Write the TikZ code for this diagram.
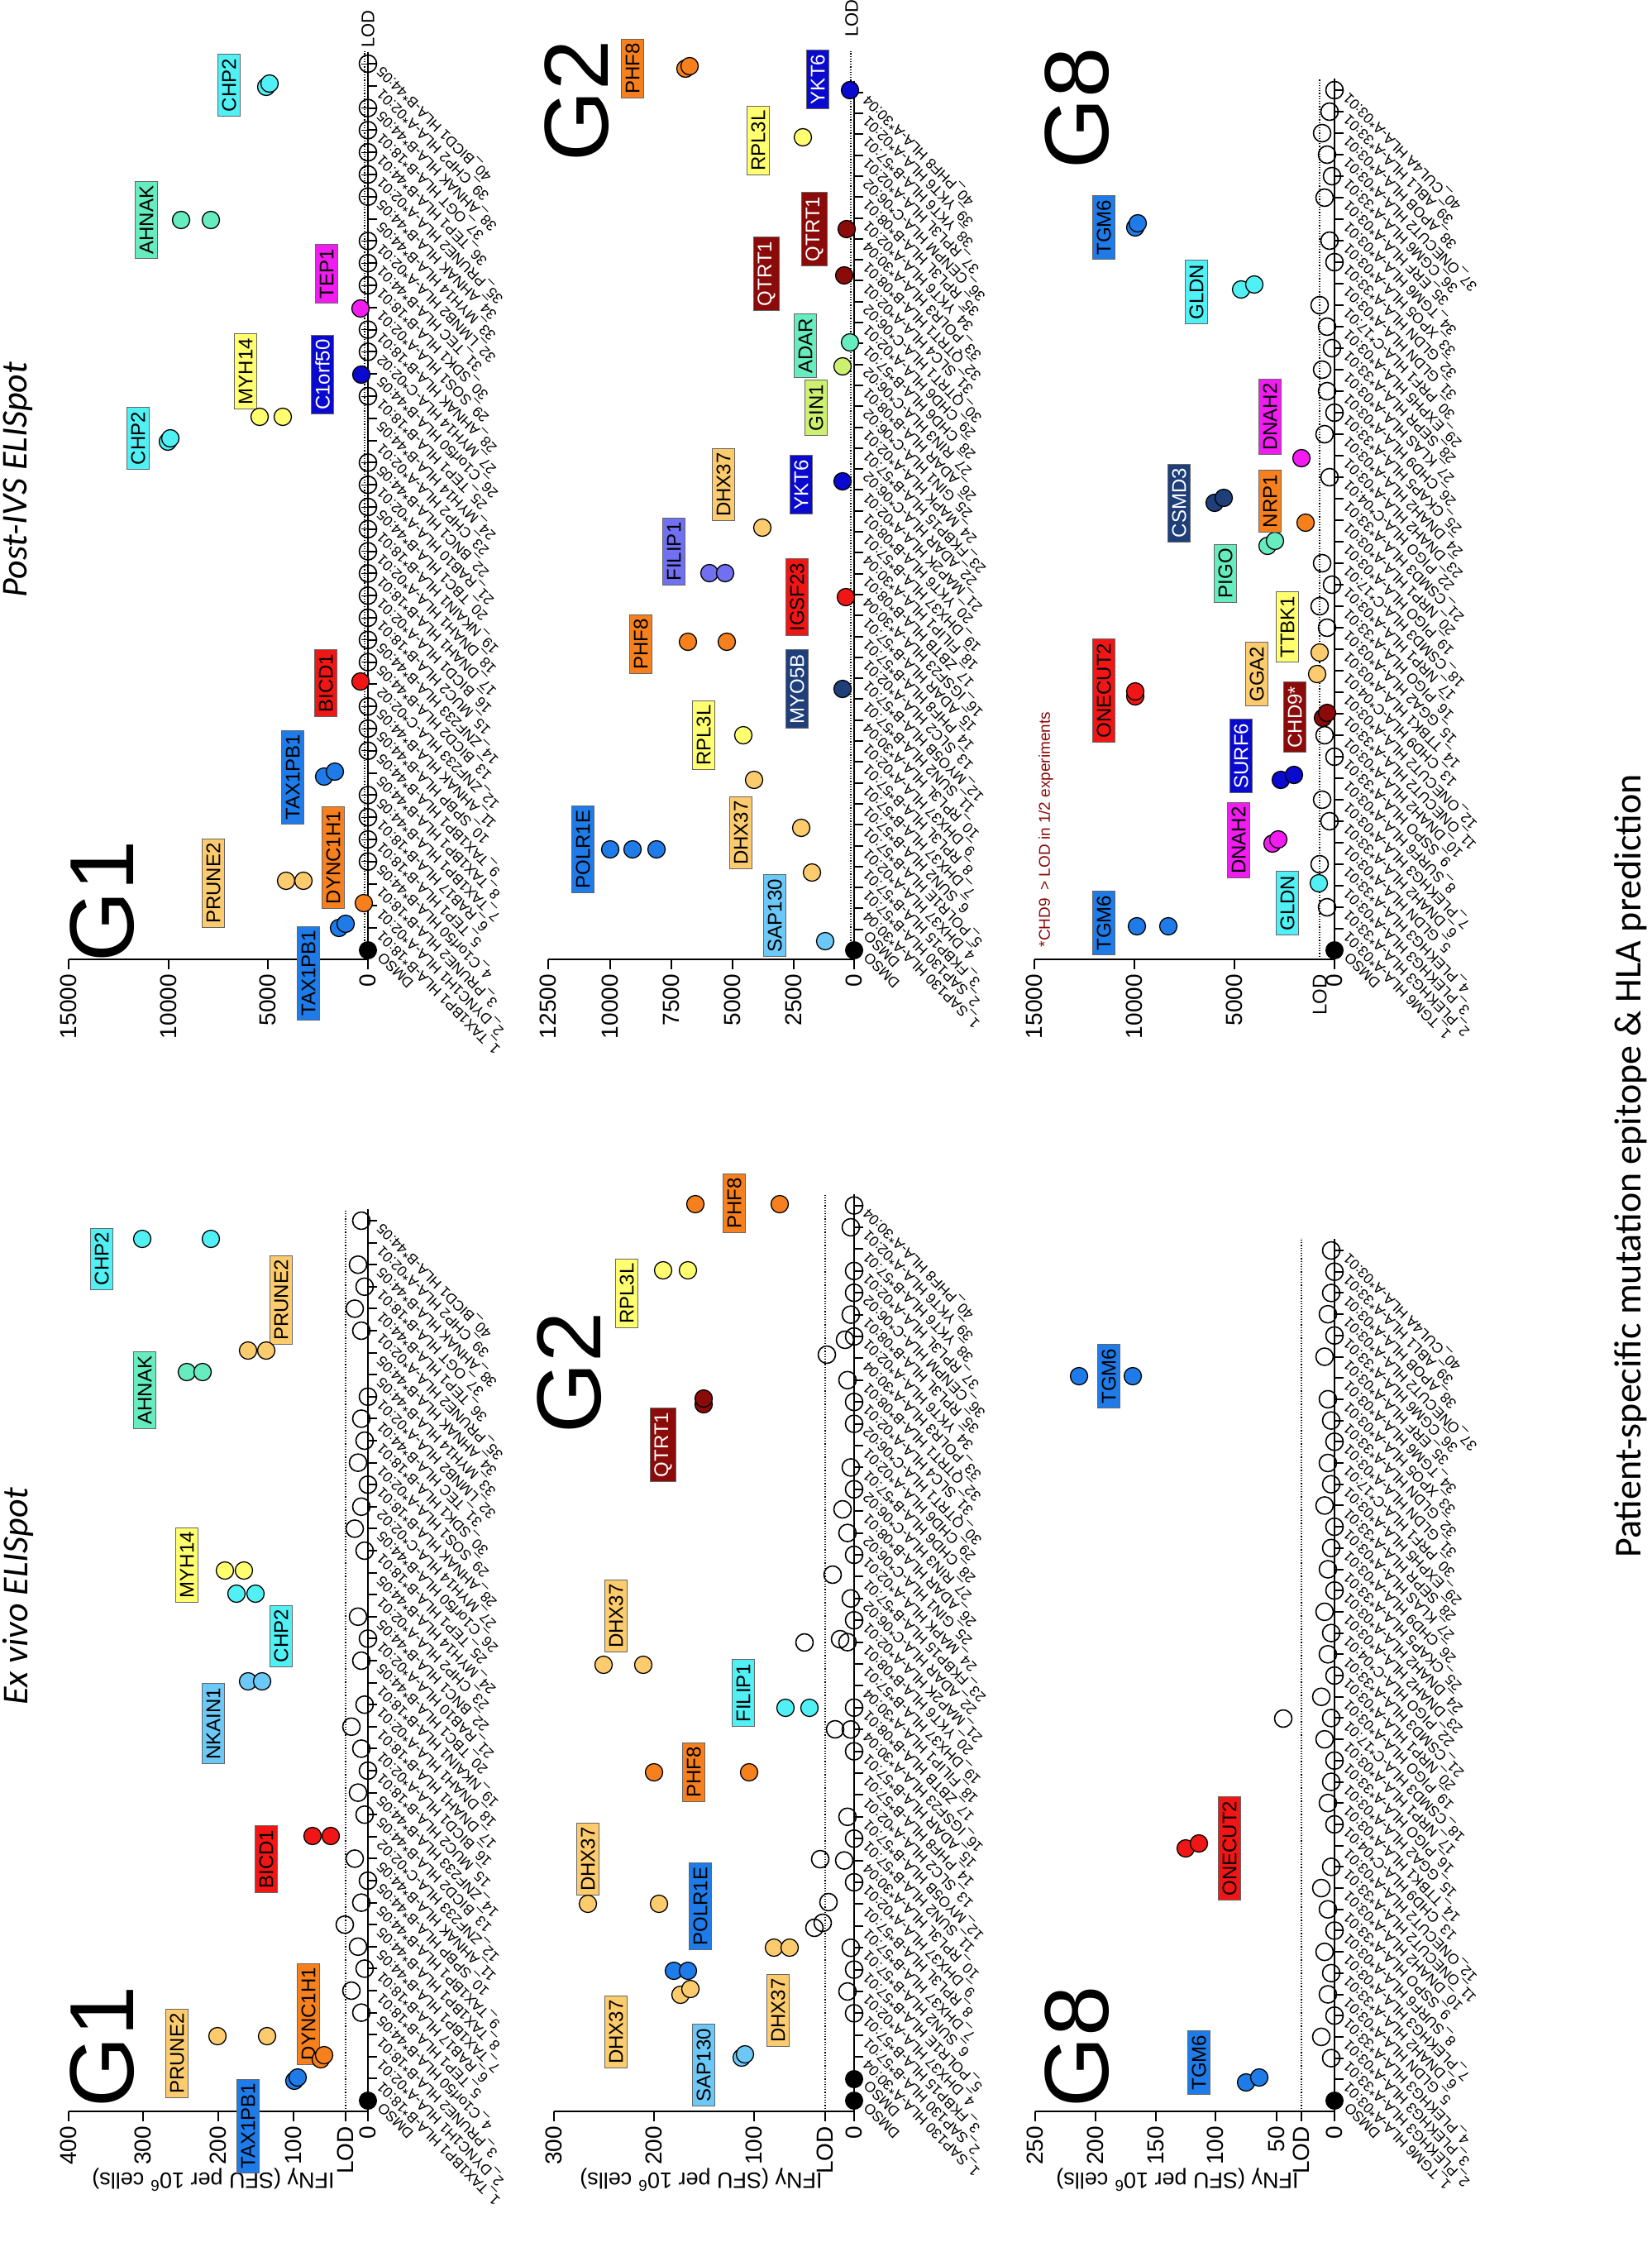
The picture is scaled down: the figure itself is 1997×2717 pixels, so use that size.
\documentclass[tikz,border=0pt]{standalone}
\usepackage{fontspec}
\setmainfont{Liberation Sans}
\newfontfamily\carlitofont{Carlito}
\definecolor{cBlue}{RGB}{30,123,232}
\definecolor{cOrange}{RGB}{247,128,30}
\definecolor{cLOrange}{RGB}{252,203,110}
\definecolor{cRed}{RGB}{240,22,22}
\definecolor{cDBlue}{RGB}{10,10,207}
\definecolor{cMag}{RGB}{240,28,240}
\definecolor{cYel}{RGB}{255,255,112}
\definecolor{cCyan}{RGB}{80,240,245}
\definecolor{cAqua}{RGB}{102,236,190}
\definecolor{cNavy}{RGB}{31,63,122}
\definecolor{cDRed}{RGB}{139,10,10}
\definecolor{cLBlue}{RGB}{108,200,247}
\definecolor{cSlate}{RGB}{112,112,240}
\definecolor{cLime}{RGB}{204,240,112}
\tikzset{
 gbox/.style={draw=black!60,line width=1pt,rotate=90,font=\fontsize{24}{24}\selectfont,inner sep=5pt,fill=#1},
 wbox/.style={gbox=#1,text=white},
 dot/.style={fill=#1,draw=black,line width=1.3pt},
 ocirc/.style={draw=black,line width=1.6pt,fill=none},
 catlab/.style={rotate=135,anchor=east,font=\fontsize{17.5}{17.5}\selectfont,inner sep=1pt},
 vlab/.style={rotate=90,anchor=east,font=\fontsize{28}{28}\selectfont,inner sep=2pt},
 glab/.style={rotate=90,font=\fontsize{110}{110}\selectfont},
 axis/.style={line width=2pt},
 lod/.style={dotted,line width=1.2pt},
 ytitle/.style={rotate=180,font=\fontsize{27}{27}\selectfont}
}
\newcommand\dt[3]{\draw[dot=#1] (#2,#3) circle (10.5);}
\newcommand\vt[3]{\draw[axis] (#1,#2) -- ++(0,12); \node[vlab] at (#1,#2+16) {#3};}
\def\GoneList{DMSO,1\_TAX1BP1 HLA-B*18:01,2\_DYNC1H1 HLA-A*02:01,3\_PRUNE2 HLA-B*18:01,4\_C1orf50 HLA-B*44:05,5\_TEP1 HLA-B*18:01,6\_RAB17 HLA-B*18:01,7\_TAX1BP1 HLA-B*44:05,8\_TAX1BP1 HLA-B*44:05,9\_TAX1BP1 HLA-B*44:05,10\_SPBP HLA-B*44:05,11\_AHNAK HLA-B*44:05,12\_ZNF233 HLA-C*02:02,13\_BICD2 HLA-B*44:05,14\_ZNF233 HLA-B*44:05,15\_MUC2 HLA-B*18:01,16\_BICD1 HLA-A*02:01,17\_DNAH1 HLA-B*18:01,18\_DNAH1 HLA-A*02:01,19\_NKAIN1 HLA-B*18:01,20\_TBC1 HLA-B*44:05,21\_RAB10 HLA-A*02:01,22\_BNC1 HLA-B*44:05,23\_CHP2 HLA-A*02:01,24\_MYH14 HLA-B*44:05,25\_TEP1 HLA-B*18:01,26\_C1orf50 HLA-B*44:05,27\_MYH14 HLA-C*02:02,28\_AHNAK HLA-B*18:01,29\_SOS1 HLA-A*02:01,30\_SDK1 HLA-B*18:01,31\_TEC HLA-B*44:01,32\_LMNB2 HLA-A*02:01,33\_MYH14 HLA-B*44:05,34\_AHNAK HLA-B*44:05,35\_PRUNE2 HLA-A*02:01,36\_TEP1 HLA-B*44:01,37\_OGT HLA-B*18:01,38\_AHNAK HLA-B*44:05,39\_CHP2 HLA-A*02:01,40\_BICD1 HLA-B*44:05}
\def\GtwoList{DMSO,DMSO,1\_SAP130 HLA-A*30:04,2\_SAP130 HLA-B*57:01,3\_FKBP15 HLA-B*57:01,4\_DHX37 HLA-A*02:01,5\_POLR1E HLA-B*57:01,6\_SUN2 HLA-B*57:01,7\_DHX37 HLA-B*57:01,8\_RPL3L HLA-B*57:01,9\_DHX37 HLA-A*02:01,10\_RPL3L HLA-A*30:04,11\_SUN2 HLA-B*57:01,12\_MYO5B HLA-B*57:01,13\_SLC2 HLA-A*02:01,14\_PHF8 HLA-B*57:01,15\_ADAR HLA-B*57:01,16\_IGSF23 HLA-A*30:04,17\_ZBTB HLA-B*08:01,18\_FILIP1 HLA-A*30:04,19\_DHX37 HLA-B*57:01,20\_YKT6 HLA-B*08:01,21\_MAP2K HLA-A*02:01,22\_ADAR HLA-C*06:02,23\_FKBP15 HLA-B*57:01,24\_MAPK HLA-A*02:01,25\_GIN1 HLA-C*06:02,26\_ADAR HLA-B*08:01,27\_RIN3 HLA-C*06:02,28\_CHD6 HLA-B*57:01,29\_CHD6 HLA-A*02:01,30\_QTRT1 HLA-C*06:02,31\_SLC4 HLA-A*02:01,32\_QTRT1 HLA-B*08:01,33\_POLR3 HLA-A*30:04,34\_YKT6 HLA-A*02:01,35\_RPL3L HLA-B*08:01,36\_CENPM HLA-C*06:02,37\_RPL3L HLA-A*02:01,38\_YKT6 HLA-B*57:01,39\_YKT6 HLA-A*02:01,40\_PHF8 HLA-A*30:04}
\def\GeightList{DMSO,1\_TGM6 HLA-A*03:01,2\_PLEKHG3 HLA-A*33:01,3\_PLEKHG3 HLA-A*03:01,4\_PLEKHG3 HLA-A*33:01,5\_GLDN HLA-A*03:01,6\_DNAH2 HLA-A*33:01,7\_PLEKHG3 HLA-A*03:01,8\_SURF6 HLA-A*03:01,9\_SSPO HLA-A*33:01,10\_DNAH2 HLA-A*03:01,11\_ONECUT2 HLA-A*33:01,12\_ONECUT2 HLA-A*03:01,13\_CHD9 HLA-C*04:01,14\_TTBK1 HLA-A*03:01,15\_GGA2 HLA-A*03:01,16\_PIGO HLA-A*33:01,17\_NRP1 HLA-A*03:01,18\_CSMD3 HLA-C*17:01,19\_PIGO HLA-A*03:01,20\_NRP1 HLA-A*03:01,21\_CSMD3 HLA-A*33:01,22\_PIGO HLA-C*04:01,23\_DNAH2 HLA-A*03:01,24\_DNAH2 HLA-A*03:01,25\_CKAP5 HLA-A*33:01,26\_CHD9 HLA-A*03:01,27\_KLAS HLA-A*03:01,28\_SEPR HLA-A*33:01,29\_EXPH5 HLA-A*03:01,30\_PRF1 HLA-C*17:01,31\_GLDN HLA-A*03:01,32\_GLDN HLA-A*33:01,33\_XPO5 HLA-A*03:01,34\_TGM6 HLA-A*03:01,35\_ERF HLA-A*03:01,36\_CGM6 HLA-A*33:01,37\_ONECUT2 HLA-A*03:01,38\_APOB HLA-A*03:01,39\_ABL1 HLA-A*33:01,40\_CUL4A HLA-A*03:01}
\newcommand\catlabels[4]{\foreach \t [count=\i from 0] in #4 {\node[catlab] at ({#1+14},{#2-\i*#3+5}) {\t};}}
\newcommand\cataxis[5]{\draw[axis] (#1,#5) -- (#1,{#2-#4*#3-14});
 \foreach \i in {0,...,#4} {\draw[axis] (#1,{#2-\i*#3}) -- ++(11,0);}}
\begin{document}
\begin{tikzpicture}[x=1pt,y=-1pt]
\useasboundingbox (0,0) rectangle (1997,2717);
\fill[white] (0,0) rectangle (1997,2717);
\node[rotate=90,font=\carlitofont\itshape\fontsize{44}{44}\selectfont] (t1) at (22,580) {Post-IVS ELISpot};
\node[rotate=90,font=\carlitofont\itshape\fontsize{44}{44}\selectfont] (t2) at (22,1930) {Ex vivo ELISpot};
\node[rotate=90,font=\carlitofont\fontsize{46}{46}\selectfont] (t3) at (1972,1410) {Patient-specific mutation epitope \& HLA prediction};

%%%%%%%%%%%%%% POST-IVS G1
\node[glab] at (124,1090) {G1};
\draw[lod] (441,1160) -- (441,62);
\cataxis{445}{1149}{26.8}{40}{1160}
\draw[axis] (83,1160) -- (445,1160);
\vt{83}{1160}{15000}\vt{204}{1160}{10000}\vt{324}{1160}{5000}\vt{445}{1160}{0}
\node[rotate=90,font=\fontsize{22}{22}\selectfont] at (445,35) {LOD};
\catlabels{445}{1149}{26.8}{\GoneList}
\foreach \i in {4,5,6,7,9,10,11,13,14,15,16,17,18,19,20,21,22,25,27,28,30,31,32,34,35,36,37,38,40}{
 \draw[ocirc] (445,{1149-\i*26.8}) circle (10.5);
 \draw[line width=1pt] (437,{1149-\i*26.8}) -- (453,{1149-\i*26.8}) (445,{1141-\i*26.8}) -- (445,{1157-\i*26.8});}
\fill[black] (445,1149) circle (11);
\node[gbox=cBlue] at (373,1177) {TAX1PB1};\dt{cBlue}{410}{1122}\dt{cBlue}{418}{1117}
\node[gbox=cOrange] at (403,1037) {DYNC1H1};\dt{cOrange}{440}{1092}
\node[gbox=cLOrange] at (258,1068) {PRUNE2};\dt{cLOrange}{346}{1065}\dt{cLOrange}{367}{1065}
\node[gbox=cBlue] at (354,940) {TAX1PB1};\dt{cBlue}{392}{939}\dt{cBlue}{405}{933}
\node[gbox=cRed] at (394,826) {BICD1};\dt{cRed}{436}{824}
\node[wbox=cDBlue] at (390,453) {C1orf50};\dt{cDBlue}{437}{453}
\node[gbox=cMag] at (395,331) {TEP1};\dt{cMag}{436}{373}
\node[gbox=cYel] at (297,449) {MYH14};\dt{cYel}{314}{504}\dt{cYel}{342}{504}
\node[gbox=cCyan] at (167,530) {CHP2};\dt{cCyan}{203}{534}\dt{cCyan}{206}{530}
\node[gbox=cAqua] at (177,266) {AHNAK};\dt{cAqua}{219}{266}\dt{cAqua}{255}{266}
\node[gbox=cCyan] at (277,103) {CHP2};\dt{cCyan}{322}{105}\dt{cCyan}{326}{101}

%%%%%%%%%%%%%% POST-IVS G2
\node[glab] at (698,122) {G2};
\draw[lod] (1029,1160) -- (1029,62);
\cataxis{1033}{1149}{25.3}{41}{1160}
\draw[axis] (663,1160) -- (1033,1160);
\vt{663}{1160}{12500}\vt{738}{1160}{10000}\vt{812}{1160}{7500}\vt{886}{1160}{5000}\vt{960}{1160}{2500}\vt{1033}{1160}{0}
\node[rotate=90,font=\fontsize{22}{22}\selectfont] at (1030,22) {LOD};
\catlabels{1033}{1149}{25.3}{\GtwoList}
\fill[black] (1033,1149) circle (11);
\node[gbox=cBlue] at (705,1027) {POLR1E};\dt{cBlue}{738}{1027}\dt{cBlue}{765}{1027}\dt{cBlue}{794}{1027}
\node[gbox=cLBlue] at (937,1107) {SAP130};\dt{cLBlue}{998}{1138}
\node[gbox=cLOrange] at (896,1007) {DHX37};\dt{cLOrange}{969}{1001}\dt{cLOrange}{982}{1055}\dt{cLOrange}{912}{943}
\node[gbox=cYel] at (851,889) {RPL3L};\dt{cYel}{899}{889}
\node[gbox=cOrange] at (775,779) {PHF8};\dt{cOrange}{832}{776}\dt{cOrange}{879}{776}
\node[gbox=cSlate] at (815,667) {FILIP1};\dt{cSlate}{858}{693}\dt{cSlate}{877}{693}
\node[gbox=cLOrange] at (875,586) {DHX37};\dt{cLOrange}{922}{638}
\node[wbox=cNavy] at (964,833) {MYO5B};\dt{cNavy}{1019}{833}
\node[gbox=cRed] at (964,722) {IGSF23};\dt{cRed}{1023}{722}
\node[wbox=cDBlue] at (969,586) {YKT6};\dt{cDBlue}{1019}{582}
\node[gbox=cLime] at (987,493) {GIN1};\dt{cLime}{1019}{443}
\node[gbox=cAqua] at (974,418) {ADAR};\dt{cAqua}{1028}{414}
\node[wbox=cDRed] at (927,331) {QTRT1};\dt{cDRed}{1021}{333}
\node[wbox=cDRed] at (985,277) {QTRT1};\dt{cDRed}{1024}{277}
\node[gbox=cYel] at (917,170) {RPL3L};\dt{cYel}{971}{166}
\node[wbox=cDBlue] at (989,96) {YKT6};\dt{cDBlue}{1028}{109}
\node[gbox=cOrange] at (765,83) {PHF8};\dt{cOrange}{829}{83}\dt{cOrange}{834}{80}

%%%%%%%%%%%%%% POST-IVS G8
\node[glab] at (1303,131) {G8};
\draw[lod] (1596,1160) -- (1596,95);
\cataxis{1614}{1149}{26}{40}{1160}
\draw[axis] (1251,1160) -- (1614,1160);
\vt{1251}{1160}{15000}\vt{1372}{1160}{10000}\vt{1493}{1160}{5000}\vt{1614}{1160}{0}
\node[vlab,font=\fontsize{24}{24}\selectfont] at (1596,1176) {LOD};
\catlabels{1614}{1149}{26}{\GeightList}
\foreach \i/\d in {2/3,4/6,6/2,7/5,9/0,10/4,15/3,16/6,17/1,18/5,22/2,24/4,25/0,26/3,27/5,28/1,29/3,30/6,32/0,33/2,35/4,36/1,37/3,38/5,39/2,40/0}{
 \draw[ocirc] ({1614-\d*3},{1149-\i*26}) circle (10.5);}
\fill[black] (1614,1149) circle (11);
\node[gbox=cBlue] at (1335,1116) {TGM6};\dt{cBlue}{1375}{1120}\dt{cBlue}{1413}{1120}
\node[gbox=cCyan] at (1557,1092) {GLDN};\dt{cCyan}{1595}{1068}
\node[gbox=cMag] at (1498,1016) {DNAH2};\dt{cMag}{1539}{1020}\dt{cMag}{1546}{1015}
\node[wbox=cDBlue] at (1501,914) {SURF6};\dt{cDBlue}{1549}{943}\dt{cDBlue}{1565}{937}
\node[wbox=cDRed] at (1566,867) {CHD9*};\dt{cDRed}{1600}{868}\dt{cDRed}{1605}{862}
\node[gbox=cLOrange] at (1520,815) {GGA2};\dt{cLOrange}{1593}{815}\dt{cLOrange}{1596}{789}
\node[gbox=cYel] at (1557,758) {TTBK1};
\node[gbox=cRed] at (1335,835) {ONECUT2};\dt{cRed}{1373}{842}\dt{cRed}{1373}{836}
\node[gbox=cAqua] at (1482,693) {PIGO};\dt{cAqua}{1533}{660}\dt{cAqua}{1542}{654}
\node[gbox=cOrange] at (1536,606) {NRP1};\dt{cOrange}{1579}{632}
\node[wbox=cNavy] at (1426,608) {CSMD3};\dt{cNavy}{1469}{608}\dt{cNavy}{1480}{602}
\node[gbox=cMag] at (1536,504) {DNAH2};\dt{cMag}{1574}{554}
\node[gbox=cCyan] at (1447,353) {GLDN};\dt{cCyan}{1501}{350}\dt{cCyan}{1517}{344}
\node[gbox=cBlue] at (1335,275) {TGM6};\dt{cBlue}{1373}{275}\dt{cBlue}{1376}{270}
\node[rotate=90,text=cDRed,font=\fontsize{19}{19}\selectfont] at (1265,1003) {*CHD9\enspace> LOD in 1/2 experiments};

%%%%%%%%%%%%%% EX VIVO G1
\node[glab] at (124,2475) {G1};
\draw[lod] (418,2553) -- (418,1463);
\cataxis{445}{2540}{26.6}{40}{2553}
\draw[axis] (83,2553) -- (445,2553);
\vt{83}{2553}{400}\vt{173}{2553}{300}\vt{264}{2553}{200}\vt{355}{2553}{100}\vt{418}{2553}{LOD}\vt{445}{2553}{0}
\node[ytitle] at (258,2636) {IFNγ (SFU per 10\textsuperscript{6} cells)};
\catlabels{445}{2540}{26.6}{\GoneList}
\foreach \i/\d in {4/2,5/5,6/1,7/3,8/7,9/2,10/0,11/4,13/1,14/3,15/0,16/2,17/5,18/1,20/2,21/0,22/3,25/1,26/4,27/2,28/0,29/3,30/1,31/2,32/0,35/2,36/4,37/1,38/3,40/2}{
 \draw[ocirc] ({445-\d*4},{2540-\i*26.6}) circle (10.5);}
\fill[black] (445,2540) circle (11);
\node[gbox=cBlue] at (300,2571) {TAX1PB1};\dt{cBlue}{356}{2516}\dt{cBlue}{360}{2512}
\node[gbox=cLOrange] at (214,2483) {PRUNE2};\dt{cLOrange}{263}{2462}\dt{cLOrange}{323}{2462}
\node[gbox=cOrange] at (373,2435) {DYNC1H1};\dt{cOrange}{388}{2490}\dt{cOrange}{392}{2485}
\node[gbox=cRed] at (322,2248) {BICD1};\dt{cRed}{378}{2220}\dt{cRed}{400}{2220}
\node[gbox=cLBlue] at (258,2084) {NKAIN1};\dt{cLBlue}{300}{2033}\dt{cLBlue}{317}{2033}
\node[gbox=cCyan] at (340,1978) {CHP2};\dt{cCyan}{286}{1927}\dt{cCyan}{309}{1927}
\node[gbox=cYel] at (226,1892) {MYH14};\dt{cYel}{272}{1899}\dt{cYel}{295}{1899}
\node[gbox=cAqua] at (175,1681) {AHNAK};\dt{cAqua}{226}{1659}\dt{cAqua}{245}{1659}
\node[gbox=cLOrange] at (340,1572) {PRUNE2};\dt{cLOrange}{300}{1633}\dt{cLOrange}{322}{1633}
\node[gbox=cCyan] at (123,1522) {CHP2};\dt{cCyan}{172}{1498}\dt{cCyan}{255}{1498}

%%%%%%%%%%%%%% EX VIVO G2
\node[glab] at (689,1660) {G2};
\draw[lod] (998,2553) -- (998,1445);
\cataxis{1033}{2540}{26.4}{41}{2553}
\draw[axis] (670,2553) -- (1033,2553);
\vt{670}{2553}{300}\vt{791}{2553}{200}\vt{912}{2553}{100}\vt{998}{2553}{LOD}\vt{1033}{2553}{0}
\node[ytitle] at (848,2636) {IFNγ (SFU per 10\textsuperscript{6} cells)};
\catlabels{1033}{2540}{26.4}{\GtwoList}
\foreach \i/\d in {4/0,5/2,6/0,7/1,10/0,11/3,12/0,13/2,16/0,17/1,18/0,21/2,22/0,23/1,25/0,26/2,28/0,29/1,31/0,32/0,33/2,35/0,36/1,37/0,38/0,40/1,41/0}{
 \draw[ocirc] ({1033-\d*4},{2540-\i*26.4}) circle (10.5);}
\foreach \x/\y in {985/2331,995/2325,992/2248,973/1986,1010/2091,1016/1982,1007/1904,1019/1825,1022/1620,1000/1638,1002/2300}{\draw[ocirc] (\x,\y) circle (10.5);}
\fill[black] (1033,2540) circle (11);\fill[black] (1033,2514) circle (11);
\node[gbox=cLBlue] at (851,2497) {SAP130};\dt{cLBlue}{897}{2488}\dt{cLBlue}{901}{2484}
\node[gbox=cLOrange] at (745,2457) {DHX37};\dt{cLOrange}{823}{2412}\dt{cLOrange}{835}{2405}
\dt{cBlue}{815}{2383}\dt{cBlue}{832}{2383}
\node[gbox=cBlue] at (847,2305) {POLR1E};
\node[gbox=cLOrange] at (711,2248) {DHX37};\dt{cLOrange}{711}{2302}\dt{cLOrange}{797}{2302}
\node[gbox=cLOrange] at (941,2431) {DHX37};\dt{cLOrange}{936}{2355}\dt{cLOrange}{955}{2355}
\node[gbox=cOrange] at (839,2143) {PHF8};\dt{cOrange}{791}{2143}\dt{cOrange}{906}{2143}
\node[gbox=cCyan] at (899,2047) {FILIP1};\dt{cCyan}{950}{2065}\dt{cCyan}{979}{2065}
\node[gbox=cLOrange] at (745,1954) {DHX37};\dt{cLOrange}{730}{2013}\dt{cLOrange}{778}{2013}
\node[wbox=cDRed] at (802,1747) {QTRT1};\dt{cDRed}{851}{1698}\dt{cDRed}{851}{1691}
\node[gbox=cYel] at (758,1564) {RPL3L};\dt{cYel}{802}{1536}\dt{cYel}{832}{1536}
\node[gbox=cOrange] at (888,1455) {PHF8};\dt{cOrange}{841}{1456}\dt{cOrange}{943}{1456}

%%%%%%%%%%%%%% EX VIVO G8
\node[glab] at (1303,2475) {G8};
\draw[lod] (1574,2553) -- (1574,1497);
\cataxis{1614}{2540}{25.7}{40}{2553}
\draw[axis] (1252,2553) -- (1614,2553);
\vt{1252}{2553}{250}\vt{1325}{2553}{200}\vt{1398}{2553}{150}\vt{1470}{2553}{100}\vt{1544}{2553}{50}\vt{1574}{2553}{LOD}\vt{1614}{2553}{0}
\node[ytitle] at (1424,2636) {IFNγ (SFU per 10\textsuperscript{6} cells)};
\catlabels{1614}{2540}{25.7}{\GeightList}
\foreach \i/\d in {2/1,3/4,4/0,5/2,6/1,7/3,8/0,9/2,10/4,11/1,13/0,14/2,15/1,16/0,17/3,18/1,19/4,20/0,21/2,22/1,23/3,24/0,25/2,26/1,27/0,28/3,29/1,30/2,31/0,32/1,33/2,35/3,36/0,37/2,38/1,39/0,40/1}{
 \draw[ocirc] ({1614-\d*4},{2540-\i*25.7}) circle (10.5);}
\draw[ocirc] (1552,2078) circle (10.5);
\fill[black] (1614,2540) circle (11);
\node[gbox=cBlue] at (1450,2494) {TGM6};\dt{cBlue}{1507}{2518}\dt{cBlue}{1523}{2512}
\node[gbox=cRed] at (1487,2235) {ONECUT2};\dt{cRed}{1434}{2235}\dt{cRed}{1450}{2229}
\node[gbox=cBlue] at (1341,1664) {TGM6};\dt{cBlue}{1305}{1664}\dt{cBlue}{1370}{1664}
\end{tikzpicture}
\end{document}
